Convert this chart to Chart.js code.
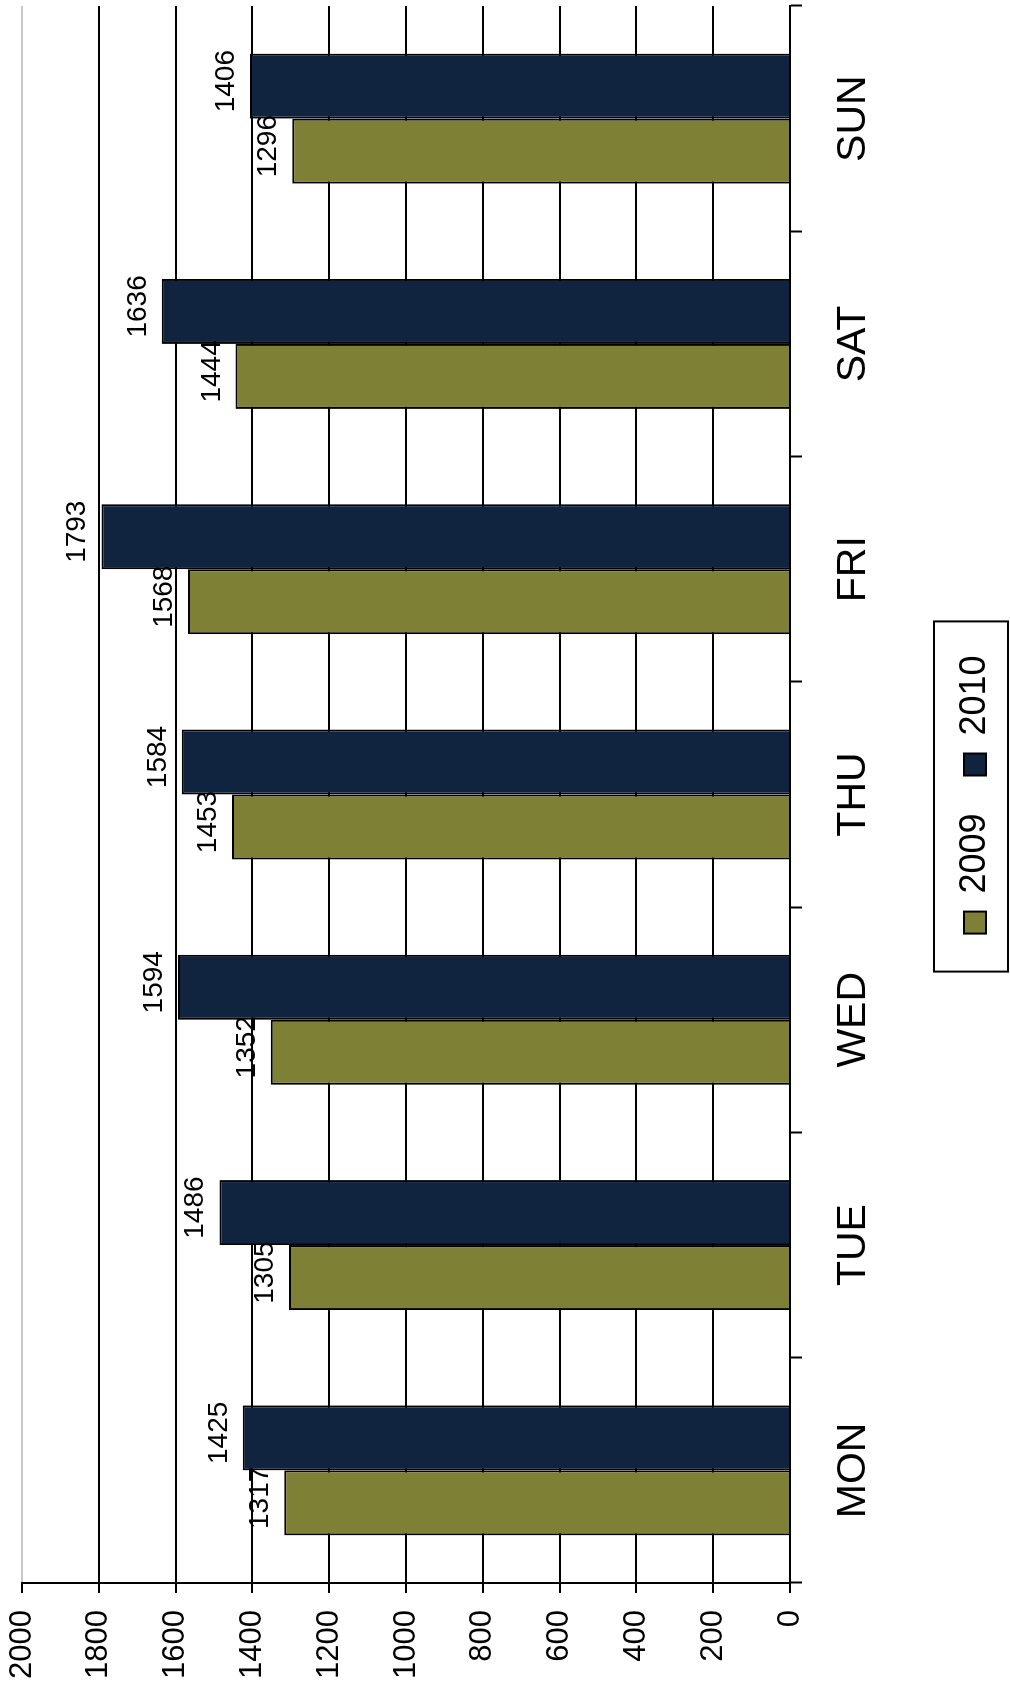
<!DOCTYPE html>
<html>
<head>
<meta charset="utf-8">
<script src="https://cdn.jsdelivr.net/npm/chart.js@4/dist/chart.umd.min.js"></script>
<style>
  html, body { margin: 0; padding: 0; background: #fff; overflow: hidden; }
  /* chart is drawn upright, then turned a quarter to the left */
  #wrap {
    position: absolute; left: 0; top: 0;
    width: 1686px; height: 1010px;
    transform-origin: 0 0;
    transform: translateY(1686px) rotate(-90deg);
  }
</style>
</head>
<body>
<div id="wrap"><canvas id="chart" width="1686" height="1010"></canvas></div>
<script>
const days = ['MON', 'TUE', 'WED', 'THU', 'FRI', 'SAT', 'SUN'];
const values2009 = [1317, 1305, 1352, 1453, 1568, 1444, 1296];
const values2010 = [1425, 1486, 1594, 1584, 1793, 1636, 1406];
const valueTicks = [0, 200, 400, 600, 800, 1000, 1200, 1400, 1600, 1800, 2000];

const FONT = "'Liberation Sans', Arial, sans-serif";
const LEGEND_FONT = 36;
const LEGEND_PAD = 38;

// numbers above each bar
const barLabels = {
  id: 'barLabels',
  afterDatasetsDraw(chart) {
    const ctx = chart.ctx;
    ctx.save();
    ctx.font = '28px ' + FONT;
    ctx.fillStyle = '#000';
    ctx.textAlign = 'center';
    ctx.textBaseline = 'alphabetic';
    chart.data.datasets.forEach((ds, i) => {
      chart.getDatasetMeta(i).data.forEach((bar, j) => {
        ctx.fillText(String(ds.data[j]), bar.x + 5, bar.y - 16);
      });
    });
    ctx.restore();
  }
};

// frame round the legend
const legendBox = {
  id: 'legendBox',
  afterDraw(chart) {
    const hb = chart.legend.legendHitBoxes;
    if (!hb || !hb.length) return;
    const last = hb[hb.length - 1];
    const ctx = chart.ctx;
    ctx.save();
    ctx.strokeStyle = '#000';
    ctx.lineWidth = 2;
    const x0 = hb[0].left - 38;
    const x1 = last.left + last.width + 34;
    const y0 = hb[0].top - 23;
    const y1 = 1008;
    ctx.strokeRect(x0, y0, x1 - x0, y1 - y0);
    ctx.restore();
  }
};

new Chart(document.getElementById('chart'), {
  type: 'bar',
  data: {
    labels: days,
    datasets: [
      { label: '2009', data: values2009, backgroundColor: '#7e8036', borderColor: '#000', borderWidth: 2 },
      { label: '2010', data: values2010, backgroundColor: '#10233f', borderColor: '#000', borderWidth: 2 }
    ]
  },
  options: {
    responsive: false,
    animation: false,
    layout: { padding: { top: 22, right: 6, bottom: 7, left: 0 } },
    datasets: { bar: { categoryPercentage: 0.577, barPercentage: 1 } },
    plugins: {
      legend: {
        position: 'bottom',
        fullSize: false,
        labels: {
          boxWidth: 22, boxHeight: 22, padding: LEGEND_PAD,
          color: '#000', font: { family: FONT, size: LEGEND_FONT }
        }
      },
      tooltip: { enabled: false }
    },
    scales: {
      x: {
        grid: { drawOnChartArea: false, drawTicks: true, tickLength: 12, tickColor: '#000', tickWidth: 2 },
        border: { display: true, color: '#000', width: 2 },
        ticks: { color: '#000', padding: 27, font: { family: FONT, size: 41 } },
        afterFit(scale) {
          scale.height = 1010 - 7 - (LEGEND_FONT + LEGEND_PAD + 10) - 790;
          scale.paddingLeft = 0;
          scale.paddingRight = 0;
        }
      },
      y: {
        min: 0, max: 2000,
        afterBuildTicks(scale) { scale.ticks = valueTicks.map(v => ({ value: v })); },
        grid: {
          color: ctx => (ctx.tick && ctx.tick.value === 2000) ? '#c8c8c8' : '#000',
          lineWidth: 2, tickLength: 10, tickColor: '#000', tickWidth: 2
        },
        border: { display: true, color: '#000', width: 2 },
        ticks: {
          color: '#000', padding: 17, font: { family: FONT, size: 31 },
          callback: v => String(v)
        },
        afterFit(scale) {
          scale.width = 103;
          scale.paddingTop = 0;
          scale.paddingBottom = 0;
        }
      }
    }
  },
  plugins: [barLabels, legendBox]
});
</script>
</body>
</html>
